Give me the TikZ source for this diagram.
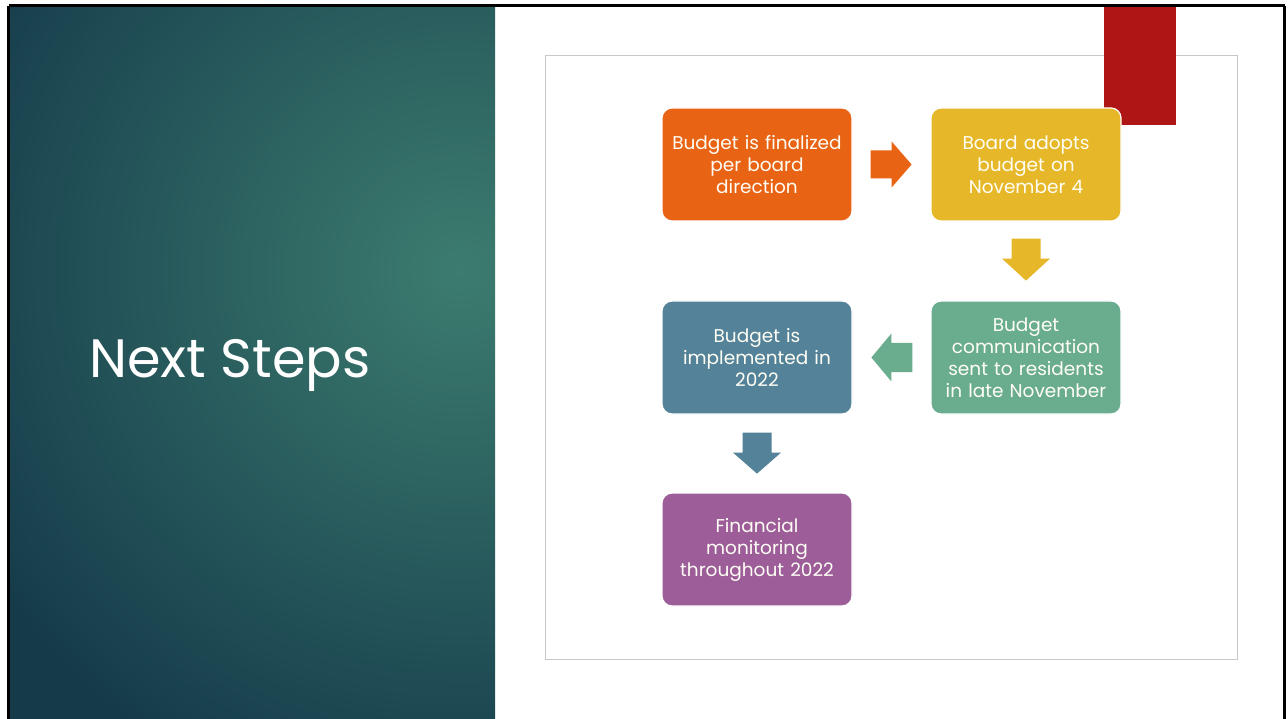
\documentclass[tikz,border=0pt]{standalone}
\usepackage{fontspec}
\setmainfont{Poppins}
\usetikzlibrary{calc}
\definecolor{panelDark}{HTML}{153B4B}
\definecolor{panelLight}{HTML}{3C7C6F}
\definecolor{stepOrange}{HTML}{E96315}
\definecolor{stepYellow}{HTML}{E6B729}
\definecolor{stepGreen}{HTML}{6AAC8E}
\definecolor{stepBlue}{HTML}{548399}
\definecolor{stepPurple}{HTML}{9C5D99}
\definecolor{accentRed}{HTML}{AE1515}
\definecolor{frameGray}{HTML}{C8C8C8}
\tikzset{
  stepbox/.style={draw=white, line width=1.2pt, rounded corners=10pt,
    minimum width=190pt, minimum height=113pt, inner sep=3pt,
    text width=182pt, align=center, text=white!96!yellow,
    font=\fontsize{18.5}{22}\selectfont}
}
\begin{document}
\begin{tikzpicture}[x=1pt,y=-1pt]
  % page and slide outline
  \fill[white] (0,0) rectangle (1288,719);
  \useasboundingbox (0,0) rectangle (1288,719);
  % left title panel with radial glow
  \begin{scope}
    \clip (10,7) rectangle (495,719);
    \fill[panelDark] (10,7) rectangle (495,719);
    \shade[inner color=panelLight, outer color=panelDark] (460,270) circle (560);
  \end{scope}
  \draw[black, line width=3pt] (8.5,6) -- (1284.5,6);
  \draw[black, line width=3pt] (8.5,6) -- (8.5,719);
  \draw[black, line width=3pt] (1284.5,6) -- (1284.5,719);
  \node[anchor=west, text=white, font=\fontsize{54}{60}\selectfont] (title) at (86,365) {Next Steps};

  % content frame and accent bar
  \draw[frameGray, line width=1.5pt] (545.5,55.5) rectangle (1237.5,659.5);
  \fill[accentRed] (1104,7.5) rectangle (1176,125);

  % process steps
  \node[stepbox, fill=stepOrange] (s1) at (757,164.5) {Budget is finalized\\per board\\direction};
  \node[stepbox, fill=stepYellow] (s2) at (1026,164.5) {Board adopts\\budget on\\November 4};
  \node[stepbox, fill=stepGreen]  (s3) at (1026,357.5) {Budget\\communication\\sent to residents\\in late November};
  \node[stepbox, fill=stepBlue]   (s4) at (757,357.5) {Budget is\\implemented in\\2022};
  \node[stepbox, fill=stepPurple] (s5) at (757,549.5) {Financial\\monitoring\\throughout 2022};

  % block arrows between steps
  \fill[stepOrange] ($(s1.east)+(18,-14)$) -- ++(21,0) -- ++(0,-9) -- ++(20,23)
    -- ++(-20,23) -- ++(0,-9) -- ++(-21,0) -- cycle;
  \fill[stepYellow] ($(s2.south)+(-14.5,17)$) -- ++(0,20) -- ++(-9.5,0) -- ++(24,22)
    -- ++(24,-22) -- ++(-9.5,0) -- ++(0,-20) -- cycle;
  \fill[stepGreen] ($(s3.west)+(-18,-14.5)$) -- ++(-21,0) -- ++(0,-9.5) -- ++(-20,24)
    -- ++(20,24) -- ++(0,-9.5) -- ++(21,0) -- cycle;
  \fill[stepBlue] ($(s4.south)+(-14.5,18)$) -- ++(0,20) -- ++(-9.5,0) -- ++(24,21)
    -- ++(24,-21) -- ++(-9.5,0) -- ++(0,-20) -- cycle;
\end{tikzpicture}
\end{document}
